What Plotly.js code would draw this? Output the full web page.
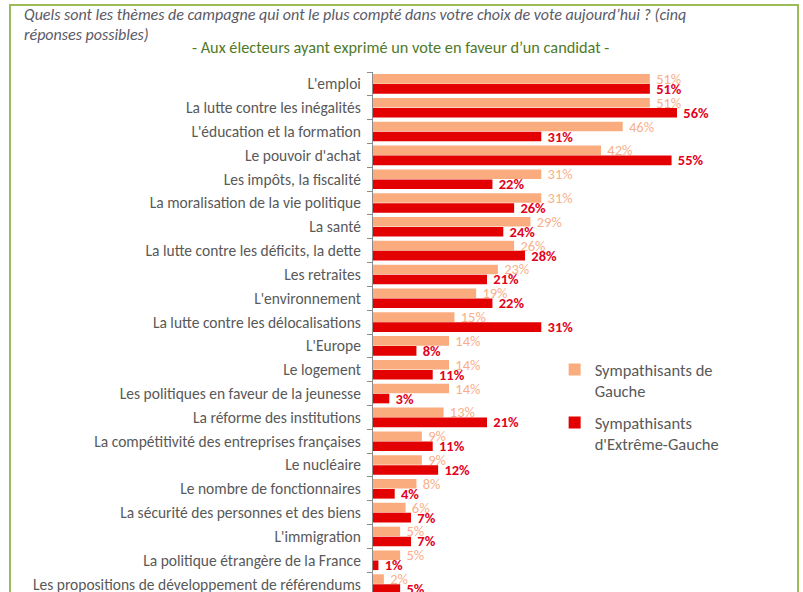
<!DOCTYPE html>
<html>
<head>
<meta charset="utf-8">
<script src="https://cdn.plot.ly/plotly-3.0.1.min.js"></script>
<style>
  html, body { margin: 0; padding: 0; background: #fff; overflow: hidden; }
  #wrap { position: relative; width: 803px; height: 592px; overflow: hidden; }
  #chart { position: absolute; left: 0; top: 0; }
  #frame {
    position: absolute; left: 9px; top: 4px; width: 786px; height: 640px;
    border: 2px solid #9bbb59; pointer-events: none;
  }
</style>
</head>
<body>
<div id="wrap">
  <div id="chart"></div>
  <div id="frame"></div>
</div>
<script>
// themes, top to bottom
const THEMES = [
    "L'emploi", "La lutte contre les inégalités", "L'éducation et la formation",
    "Le pouvoir d'achat", "Les impôts, la fiscalité", "La moralisation de la vie politique",
    "La santé", "La lutte contre les déficits, la dette", "Les retraites",
    "L'environnement", "La lutte contre les délocalisations", "L'Europe",
    "Le logement", "Les politiques en faveur de la jeunesse", "La réforme des institutions",
    "La compétitivité des entreprises françaises", "Le nucléaire", "Le nombre de fonctionnaires",
    "La sécurité des personnes et des biens", "L'immigration",
    "La politique étrangère de la France", "Les propositions de développement de référendums",
];
const GAUCHE = [51, 51, 46, 42, 31, 31, 29, 26, 23, 19, 15, 14, 14, 14, 13, 9, 9, 8, 6, 5, 5, 2];
const EXTREME_GAUCHE = [51, 56, 31, 55, 22, 26, 24, 28, 21, 22, 31, 8, 11, 3, 21, 11, 12, 4, 7, 7, 1, 5];

const FONT = 'Carlito, Lato, "Open Sans", sans-serif';
const GREY = '#595959';

const traces = [
    {
        type: 'bar', orientation: 'h',
        y: THEMES, x: GAUCHE,
        name: 'Sympathisants de<br>Gauche', legendgroup: 'g',
        marker: { color: '#fbac7e' },
        texttemplate: '\u00a0%{x}%', textposition: 'outside', cliponaxis: false,
        constraintext: 'none',
        textfont: { family: FONT, size: 14.5, color: '#f9b089' },
    },
    {
        type: 'bar', orientation: 'h',
        y: THEMES, x: EXTREME_GAUCHE,
        name: "Sympathisants<br>d'Extrême-Gauche", legendgroup: 'eg',
        marker: { color: '#e30000' },
        texttemplate: '\u00a0<b>%{x}%</b>', textposition: 'outside', cliponaxis: false,
        constraintext: 'none',
        textfont: { family: FONT, size: 14.5, color: '#e3001b' },
    },
];

const layout = {
    width: 803, height: 600,
    margin: { l: 373, r: 50, t: 72, b: 4 },
    paper_bgcolor: '#fff', plot_bgcolor: '#fff',
    font: { family: FONT, color: GREY, size: 13 },
    barmode: 'group', bargap: 0.16, bargroupgap: 0.04,
    xaxis: {
        range: [0, 70], visible: false, fixedrange: true,
    },
    yaxis: {
        autorange: 'reversed', type: 'category',
        showline: true, linecolor: '#8c8c8c', linewidth: 1,
        ticks: 'outside', tickson: 'boundaries', ticklen: 5, tickcolor: '#8c8c8c',
        ticklabelstandoff: 8,
        tickfont: { family: FONT, size: 15.5, color: GREY },
        showgrid: false, zeroline: false,
    },
    showlegend: true,
    legend: {
        x: 0.478, y: 0.465, xanchor: 'left', yanchor: 'top',
        valign: 'top', traceorder: 'grouped', tracegroupgap: 7,
        font: { family: FONT, size: 16.5, color: GREY },
        bgcolor: 'rgba(0,0,0,0)',
    },
    annotations: [
        {
            xref: 'paper', yref: 'paper', x: -0.925, y: 1, yshift: 58,
            xanchor: 'left', yanchor: 'middle', align: 'left', showarrow: false,
            text: "<i>Quels sont les thèmes de campagne qui ont le plus compté dans votre choix de vote aujourd’hui ? (cinq</i>",
            font: { family: FONT, size: 16, color: '#5a5a66' },
        },
        {
            xref: 'paper', yref: 'paper', x: -0.925, y: 1, yshift: 38,
            xanchor: 'left', yanchor: 'middle', align: 'left', showarrow: false,
            text: '<i>réponses possibles)</i>',
            font: { family: FONT, size: 16, color: '#5a5a66' },
        },
        {
            xref: 'paper', yref: 'paper', x: 0.073, y: 1, yshift: 25,
            xanchor: 'center', yanchor: 'middle', showarrow: false,
            text: '- Aux électeurs ayant exprimé un vote en faveur d’un candidat -',
            font: { family: FONT, size: 16.3, color: '#4f7a28' },
        },
    ],
};

Plotly.newPlot('chart', traces, layout, { displayModeBar: false, staticPlot: true });
</script>
</body>
</html>
